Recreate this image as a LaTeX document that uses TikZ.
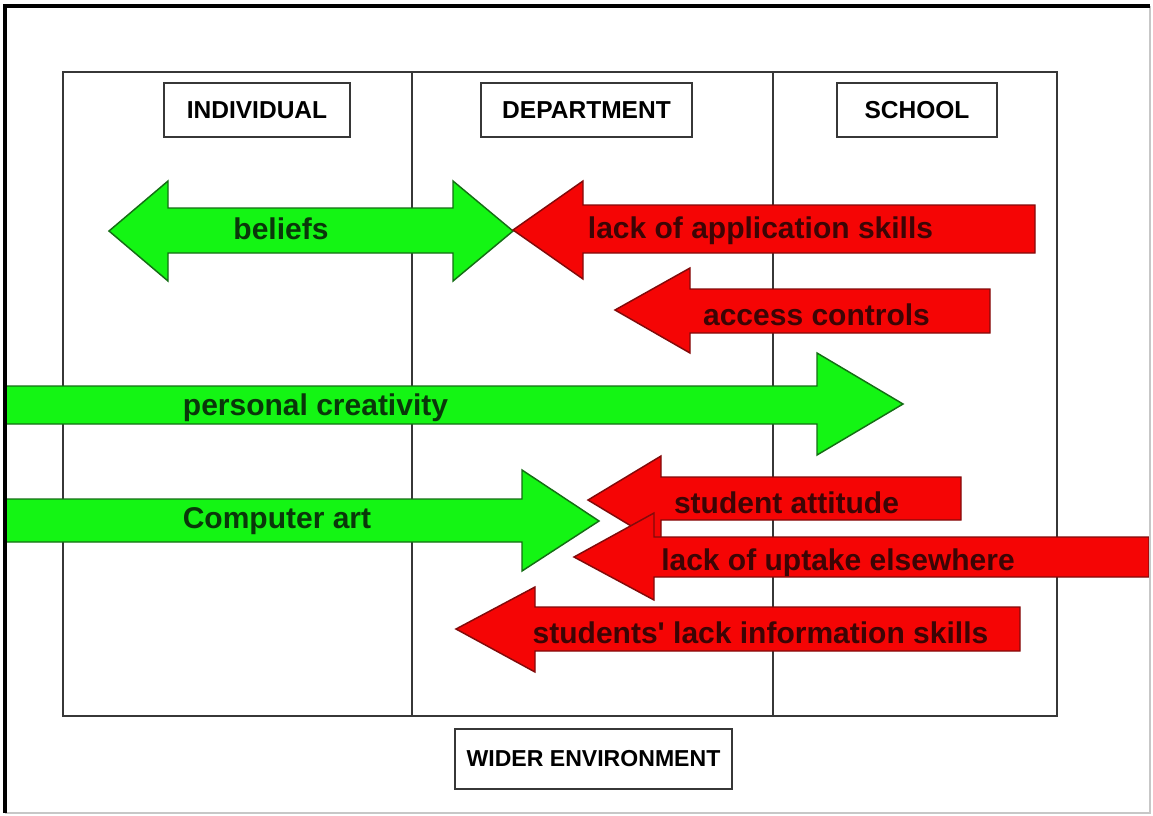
\documentclass[tikz,border=0pt]{standalone}
\usepackage{fontspec}
\setmainfont{Liberation Sans}
\definecolor{arrgreen}{RGB}{20,245,20}
\definecolor{arrgreendark}{RGB}{20,110,20}
\definecolor{gtext}{RGB}{10,55,10}
\definecolor{arrred}{RGB}{245,5,5}
\definecolor{arrreddark}{RGB}{130,10,10}
\definecolor{rtext}{RGB}{60,5,5}
\definecolor{framegray}{RGB}{55,55,55}
\tikzset{
  garrow/.style={fill=arrgreen, draw=arrgreendark, line width=1.1pt, line join=miter},
  rarrow/.style={fill=arrred, draw=arrreddark, line width=1.1pt, line join=miter},
  glabel/.style={font=\fontsize{22.5pt}{27pt}\selectfont\bfseries, text=gtext, inner sep=0pt, anchor=base},
  rlabel/.style={font=\fontsize{22.5pt}{27pt}\selectfont\bfseries, text=rtext, inner sep=0pt, anchor=base},
  hdr/.style={draw=framegray, line width=1.5pt, fill=white, inner sep=0pt, minimum height=40.5pt,
    font=\fontsize{18.4pt}{22pt}\selectfont\bfseries},
  frameline/.style={draw=framegray, line width=1.3pt},
}
\begin{document}
\begin{tikzpicture}[x=0.75pt,y=-0.75pt]
\useasboundingbox (0,0) rectangle (1153,815);
\fill[white] (0,0) rectangle (1153,815);
% inner grid
\coordinate (gTL) at (63,72);
\coordinate (gBR) at (1057,716);
\draw[frameline] (gTL) rectangle (gBR);
\draw[framegray, line width=1.8pt] (63,716) -- (1057,716);
\coordinate (d1t) at (412,72); \coordinate (d1b) at (412,716);
\coordinate (d2t) at (773,72); \coordinate (d2b) at (773,716);
\draw[frameline, line width=1.1pt] (d1t) -- (d1b);
\draw[frameline, line width=1.1pt] (d2t) -- (d2b);
% headers
\node[hdr, minimum width=139.5pt] (individual) at (257,110) {INDIVIDUAL};
\node[hdr, minimum width=158.25pt] (department) at (586.5,110) {DEPARTMENT};
\node[hdr, minimum width=120pt] (school) at (917,110) {SCHOOL};
\node[hdr, minimum width=207.75pt, minimum height=45pt, font=\fontsize{17.3pt}{21pt}\selectfont\bfseries] (wider) at (593.5,759) {WIDER ENVIRONMENT};
% green arrows
\draw[garrow] (5,386) -- (817,386) -- (817,353) -- (903,404) -- (817,455) -- (817,424) -- (5,424) -- cycle;
\node[glabel] (creativity) at (315.5,415) {personal creativity};
\draw[garrow] (5,499) -- (522,499) -- (522,470) -- (599,521) -- (522,571) -- (522,542) -- (5,542) -- cycle;
\node[glabel] (compart) at (277,528) {Computer art};
\draw[garrow] (109,231) -- (168,181) -- (168,208) -- (453,208) -- (453,181) -- (513,231) -- (453,281) -- (453,253) -- (168,253) -- (168,281) -- cycle;
\node[glabel] (beliefs) at (281,239) {beliefs};
% red arrows
\draw[rarrow] (513,230) -- (583,181) -- (583,205) -- (1035,205) -- (1035,253) -- (583,253) -- (583,279) -- cycle;
\node[rlabel] (appskills) at (760.5,238) {lack of application skills};
\draw[rarrow] (615,310) -- (690,268) -- (690,289) -- (990,289) -- (990,333) -- (690,333) -- (690,353) -- cycle;
\node[rlabel] (access) at (816.5,325) {access controls};
\draw[rarrow] (588,500) -- (661,456) -- (661,477) -- (961,477) -- (961,520) -- (661,520) -- (661,544) -- cycle;
\node[rlabel] (attitude) at (786.5,513) {student attitude};
\draw[rarrow] (574,557) -- (654,513) -- (654,537) -- (1149,537) -- (1149,577) -- (654,577) -- (654,600) -- cycle;
\node[rlabel] (uptake) at (838,570) {lack of uptake elsewhere};
\draw[rarrow] (456,629) -- (535,587) -- (535,607) -- (1020,607) -- (1020,651) -- (535,651) -- (535,672) -- cycle;
\node[rlabel] (infoskills) at (760.5,643) {students\textquotesingle{} lack information skills};
% outer frame
\coordinate (fTL) at (5,6);
\coordinate (fTR) at (1150,6);
\coordinate (fBL) at (5,813);
\coordinate (fBR) at (1150,813);
\draw[black!22, line width=0.9pt] (fTR) -- (fBR) -- (fBL);
\draw[black, line width=2.4pt] (fBL) -- (fTL) -- (fTR);
\end{tikzpicture}
\end{document}
